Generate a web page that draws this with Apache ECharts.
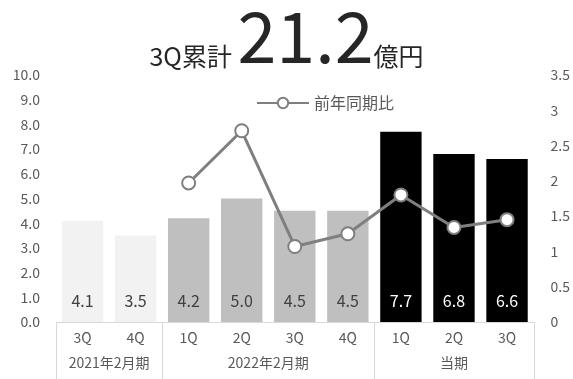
<!DOCTYPE html>
<html><head><meta charset="utf-8">
<script src="https://cdn.jsdelivr.net/npm/echarts@6/dist/echarts.min.js"></script>
<style>html,body{margin:0;padding:0;background:#fff}#c{width:573px;height:379px}</style>
</head><body><div id="c"></div>
<script>
const quarters = ['3Q','4Q','1Q','2Q','3Q','4Q','1Q','2Q','3Q'];
const periods = ['2021年2月期','2022年2月期','当期'];
const periodSpans = [[0,1],[2,5],[6,8]];
const sales = [4.1, 3.5, 4.2, 5.0, 4.5, 4.5, 7.7, 6.8, 6.6];
const yoy = [null, null, 1.97, 2.71, 1.07, 1.25, 1.80, 1.34, 1.45];
const leftTicks = [0,10,1];
const rightTicks = [0,3.5,0.5];
const barColors = ['#f2f2f2','#f2f2f2','#bfbfbf','#bfbfbf','#bfbfbf','#bfbfbf','#000000','#000000','#000000'];
const labelColors = ['#404040','#404040','#404040','#404040','#404040','#404040','#ffffff','#ffffff','#ffffff'];
const FONT = '"Noto Sans CJK JP", "Noto Sans", sans-serif';

const chart = echarts.init(document.getElementById('c'));
const option = {
  animation: false,
  textStyle: {fontFamily: FONT},
  title: {
    text: '{s|3Q累計 }{b|21.2}{s|億円}',
    left: 'center', top: -14,
    textStyle: {
      fontWeight: 'normal',
      rich: {
        s: {fontSize: 25, color: '#262626', fontFamily: FONT, fontWeight: 'normal', verticalAlign: 'bottom', padding: [0,0,12,0]},
        b: {fontSize: 70, color: '#262626', fontFamily: FONT, fontWeight: 'normal', lineHeight: 90}
      }
    }
  },
  legend: {
    top: 90, left: 251,
    itemWidth: 52, itemHeight: 13, itemGap: 3,
    textStyle: {fontSize: 16, color: '#595959', fontFamily: FONT},
    data: ['前年同期比']
  },
  grid: {left: 56, right: 39, top: 75, bottom: 57},
  xAxis: {
    type: 'category', data: quarters,
    axisLine: {lineStyle: {color: '#d9d9d9', width: 1}},
    axisTick: {show: false},
    axisLabel: {color: '#595959', fontSize: 14, margin: 9, fontFamily: FONT}
  },
  yAxis: [
    {type: 'value', min: leftTicks[0], max: leftTicks[1], interval: leftTicks[2],
     splitLine: {show: false}, axisLine: {show: false}, axisTick: {show: false},
     axisLabel: {color: '#595959', fontSize: 14, margin: 16, formatter: v => v.toFixed(1)}},
    {type: 'value', min: rightTicks[0], max: rightTicks[1], interval: rightTicks[2],
     splitLine: {show: false}, axisLine: {show: false}, axisTick: {show: false},
     axisLabel: {color: '#595959', fontSize: 14, margin: 17}}
  ],
  series: [
    {type: 'bar', name: '売上', yAxisIndex: 0, barCategoryGap: '22%',
     data: sales.map((v,i) => ({value: v, itemStyle: {color: barColors[i]},
       label: {color: labelColors[i]}})),
     label: {show: true, position: 'insideBottom', distance: 13, fontSize: 16, fontFamily: FONT,
       formatter: p => p.value.toFixed(1)}},
    {type: 'line', name: '前年同期比', yAxisIndex: 1, data: yoy,
     symbol: 'circle', symbolSize: 13,
     lineStyle: {color: '#7f7f7f', width: 3},
     itemStyle: {color: '#ffffff', borderColor: '#7f7f7f', borderWidth: 2},
     z: 5}
  ]
};
chart.setOption(option);

// second-level category labels and separators
const yBase = chart.convertToPixel({yAxisIndex: 0}, 0);
const half = (chart.convertToPixel({xAxisIndex: 0}, 1) - chart.convertToPixel({xAxisIndex: 0}, 0)) / 2;
const graphics = [];
const bounds = new Set();
periodSpans.forEach((sp, k) => {
  const x0 = chart.convertToPixel({xAxisIndex: 0}, sp[0]) - half;
  const x1 = chart.convertToPixel({xAxisIndex: 0}, sp[1]) + half;
  bounds.add(Math.round(x0)); bounds.add(Math.round(x1));
  graphics.push({type: 'text', x: (x0 + x1) / 2, y: yBase + 41,
    style: {text: periods[k], fill: '#595959', font: '14px ' + FONT, align: 'center', verticalAlign: 'middle'}});
});
bounds.forEach(x => {
  graphics.push({type: 'line', shape: {x1: x + 0.5, y1: yBase, x2: x + 0.5, y2: 379},
    style: {stroke: '#d9d9d9', lineWidth: 1}});
});
chart.setOption({graphic: graphics});
</script>
</body></html>
